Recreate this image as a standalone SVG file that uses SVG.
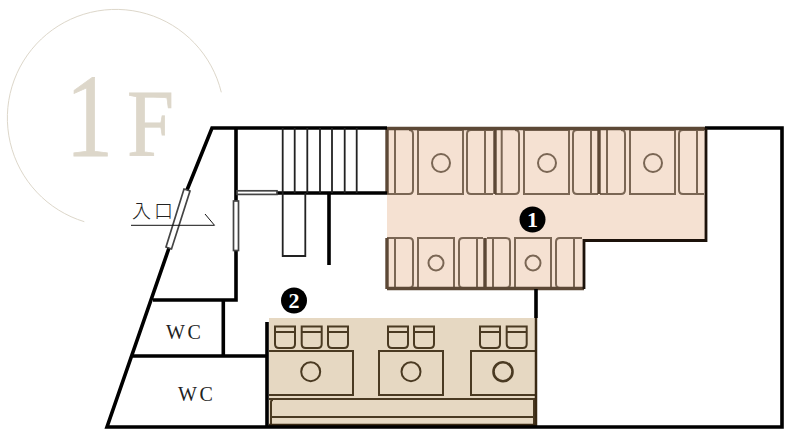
<svg xmlns="http://www.w3.org/2000/svg" width="797" height="444" viewBox="0 0 797 444">
<style>
.wall{fill:none;stroke:#000;stroke-width:3.6;stroke-linejoin:miter}
.thin{fill:none;stroke:#222;stroke-width:1.8}
.win{fill:#fff;stroke:#444;stroke-width:1.7}
.f1{fill:none;stroke:#7a6654;stroke-width:2}
.f1b{fill:none;stroke:#5c4836;stroke-width:3.400}
.f2{fill:none;stroke:#4a3a22;stroke-width:2}
.bigt{font-family:"Liberation Serif",serif;fill:#ddd7ca;stroke:#ddd7ca;stroke-width:.8}
.wc{font-family:"Liberation Serif",serif;font-size:20px;fill:#222;letter-spacing:2.500px}
.num{font-family:"Liberation Serif",serif;font-size:22px;font-weight:bold;fill:#fff;text-anchor:middle}
</style>
<g id="title">
<path d="M221.300 92.300A108.500 108.500 0 1 0 84.300 221.700" fill="none" stroke="#ddd7ca" stroke-width="1"/>
<text class="bigt" transform="translate(65.600 155.500) scale(.8 1)" x="0" y="0" font-size="119">1</text>
<text class="bigt" transform="translate(127 155.500) scale(.89 1)" x="0" y="0" font-size="95">F</text>
</g>
<g id="zone1">
<path d="M387 128H705V240H583V288H387Z" fill="#f5e1d2"/>
<g class="f1">
<path d="M395 130V194M387 194H409Q413 194 413 190V134Q413 130 409 130"/>
<rect x="418" y="130" width="45" height="64"/><circle cx="441" cy="163" r="9"/>
<path d="M493 194H471Q467 194 467 190V134Q467 130 471 130H493M485 130V194"/>
<path d="M495 194H515Q519 194 519 190V134Q519 130 515 130M501.700 130V194"/>
<rect x="524" y="130" width="45" height="64"/><circle cx="547" cy="163" r="9"/>
<path d="M598 194H577Q573 194 573 190V134Q573 130 577 130H598M591 130V194"/>
<path d="M600 194H621Q625 194 625 190V134Q625 130 621 130M607 130V194"/>
<rect x="630" y="130" width="45" height="64"/><circle cx="653" cy="163" r="9"/>
<path d="M704 194H683Q679 194 679 190V134Q679 130 683 130H704M697 130V194"/>
<path d="M395 238V288M387 238H409Q413 238 413 242V284Q413 288 409 288H387"/>
<rect x="418" y="238" width="36" height="50"/><circle cx="436" cy="263" r="7.500"/>
<path d="M483 238H463Q459 238 459 242V284Q459 288 463 288H483M477 238V288"/>
<path d="M487 238H506Q510 238 510 242V284Q510 288 506 288H487M493 238V288"/>
<rect x="515" y="238" width="36" height="50"/><circle cx="533" cy="263" r="7.500"/>
<path d="M582 238H560Q556 238 556 242V284Q556 288 560 288H582M574 238V288"/>
</g>
<path class="f1b" d="M495 130V194M599 130V194M485 238V288"/>
<path d="M387 128.500H705M387 128V194M387 238V289M387 288.500H584" fill="none" stroke="#5c4836" stroke-width="3.400"/>
</g>
<g id="zone2">
<rect x="269" y="318" width="268" height="109" fill="#e6d8c2"/>
<g class="f2">
<path d="M275 326.500H295V344Q295 348 291 348H279Q275 348 275 344ZM275 332H295"/>
<path d="M301.700 326.500H321.700V344Q321.700 348 317.700 348H305.700Q301.700 348 301.700 344ZM301.700 332H321.700"/>
<path d="M328 326.500H348V344Q348 348 344 348H332Q328 348 328 344ZM328 332H348"/>
<path d="M388 326.500H408V344Q408 348 404 348H392Q388 348 388 344ZM388 332H408"/>
<path d="M414 326.500H434V344Q434 348 430 348H418Q414 348 414 344ZM414 332H434"/>
<path d="M480 326.500H500V344Q500 348 496 348H484Q480 348 480 344ZM480 332H500"/>
<path d="M506.700 326.500H526.700V344Q526.700 348 522.700 348H510.700Q506.700 348 506.700 344ZM506.700 332H526.700"/>
<path d="M269 351H353V395H269"/><circle cx="310.700" cy="371.700" r="9.500"/>
<rect x="379" y="351" width="64" height="44"/><circle cx="411" cy="371.700" r="9.500"/>
<path d="M535 351H471V395H535"/><circle cx="503" cy="371.700" r="9.500" stroke-width="2.600"/>
<path d="M269 399H535M271 424V402Q271 400 273 400M534 400V424M271 417H535"/>
</g>
<path d="M269 425.500H536" stroke="#3a2a14" stroke-width="3.400" fill="none"/>
<path d="M536 318V427" stroke="#3a2a14" stroke-width="2.500" fill="none"/>
</g>
<g id="walls">
<path class="wall" d="M387 128H212L187 190M169 248L107 427H782V128H705"/>
<path class="wall" d="M236 128V201M236 251V300H153"/>
<path class="wall" d="M223.300 300V356M133 356H268M267 322V427"/>
<path class="wall" d="M277 193H387M329 193V265M536 289V318"/>
<path d="M706 128V240.500H584V289" fill="none" stroke="#1c120a" stroke-width="2.800"/>
<path class="thin" d="M282.700 128V193M294.700 128V193M307.300 128V193M320 128V193M332 128V193M344.700 128V193M356.700 128V193M282.700 193V256H305.300V193"/>
<rect class="win" x="233.500" y="201" width="5" height="49.500"/>
<rect class="win" x="237" y="190.800" width="40" height="3.600"/>
<path class="win" d="M184 189L190 191L171.500 249L166 247Z"/>
</g>
<g id="entrance">
<text x="132" y="217.500" font-family="'Noto Sans CJK JP',sans-serif" font-size="19" font-weight="300" fill="#222" letter-spacing="3">入口</text>
<path d="M131 225.300H214.500L205 214" fill="none" stroke="#111" stroke-width="1"/>
</g>
<g id="wc1"><text class="wc" x="166" y="339">WC</text></g>
<g id="wc2"><text class="wc" x="178" y="401">WC</text></g>
<g id="badge1"><circle cx="532.500" cy="219.500" r="13"/><text class="num" x="532.500" y="227">1</text></g>
<g id="badge2"><circle cx="294" cy="300.500" r="13"/><text class="num" x="294" y="308">2</text></g>
</svg>
